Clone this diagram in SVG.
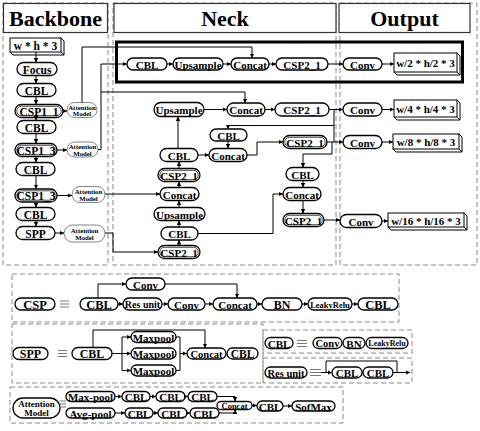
<svg xmlns="http://www.w3.org/2000/svg" width="480" height="431" viewBox="0 0 480 431">
<defs>
<marker id="a" viewBox="0 0 6 6" refX="6" refY="3" markerWidth="4.5" markerHeight="4.5" orient="auto" markerUnits="userSpaceOnUse"><path d="M0,0L6,3L0,6z" fill="#000"/></marker>
</defs>
<style>
text{font-family:"Liberation Serif","Times New Roman",serif;font-weight:bold;text-anchor:middle;dominant-baseline:central;fill:#000;font-size:11px}
.n rect{fill:#fff;stroke:#000;stroke-width:1.3}
.n rect.in{fill:none;stroke-width:0.7}
.am rect{fill:#fff;stroke:#666;stroke-width:0.8}
.am text{font-size:6.8px}
.dash{fill:none;stroke:#8a8a8a;stroke-width:1;stroke-dasharray:5 3}
.title{fill:#fff;stroke:#333;stroke-width:1.2}
.tt{font-size:22px}
.c path{fill:none;stroke:#000;stroke-width:1}
.c path.ar{marker-end:url(#a)}
.bx rect,.bx path{fill:#fff;stroke:#000;stroke-width:1}
.eq{fill:none;stroke:#777;stroke-width:1.1}
.bold{fill:none;stroke:#000;stroke-width:3}
</style>
<rect width="480" height="431" fill="#fff"/>

<!-- column frames -->
<g id="frames">
<rect class="dash" x="3" y="3" width="105" height="262"/>
<rect class="dash" x="113" y="3" width="223" height="262"/>
<rect class="dash" x="340" y="3" width="137" height="262"/>
<rect class="title" x="3.5" y="3.5" width="104" height="29"/>
<rect class="title" x="114" y="3.5" width="222" height="29"/>
<rect class="title" x="339" y="3.5" width="131" height="29"/>
<text class="tt" x="55.5" y="18">Backbone</text>
<text class="tt" x="225" y="18">Neck</text>
<text class="tt" x="404.5" y="18">Output</text>
<rect class="bold" x="116.5" y="42" width="346" height="40"/>
</g>

<!-- Backbone -->
<g id="bb-input" class="bx"><path d="M61,38 L64,41 L64,55 L13,55 L10,52 Z"/><path d="M61,52 L64,55"/><rect x="10" y="38" width="51" height="14"/><text x="35.5" y="45.5" style="font-size:11.5px">w * h * 3</text></g>
<g id="bb-focus" class="n"><rect x="17" y="62.5" width="40" height="13" rx="6.5"/><text x="37" y="69.5" style="font-size:11.5px">Focus</text></g>
<g id="bb-cbl1" class="n"><rect x="17" y="83.5" width="39" height="13" rx="6.5"/><text x="36.5" y="90.5" style="font-size:11.5px">CBL</text></g>
<g id="bb-csp11" class="n"><rect x="15" y="104.5" width="48" height="13" rx="6.5"/><rect class="in" x="16.8" y="106.3" width="44.4" height="9.4" rx="4.7"/><text x="39" y="111.5" style="font-size:11.5px">CSP1_1</text></g>
<g id="bb-cbl2" class="n"><rect x="17" y="120.5" width="39" height="13" rx="6.5"/><text x="36.5" y="127.5" style="font-size:11.5px">CBL</text></g>
<g id="bb-csp13a" class="n"><rect x="15" y="143.5" width="42" height="13" rx="6.5"/><rect class="in" x="16.8" y="145.3" width="38.4" height="9.4" rx="4.7"/><text x="36" y="150.5" style="font-size:11.5px">CSP1_3</text></g>
<g id="bb-cbl3" class="n"><rect x="16" y="162.5" width="39" height="13" rx="6.5"/><text x="35.5" y="169.5" style="font-size:11.5px">CBL</text></g>
<g id="bb-csp13b" class="n"><rect x="15" y="189" width="42" height="13" rx="6.5"/><rect class="in" x="16.8" y="190.8" width="38.4" height="9.4" rx="4.7"/><text x="36" y="196" style="font-size:11.5px">CSP1_3</text></g>
<g id="bb-cbl4" class="n"><rect x="16" y="207.5" width="39" height="13" rx="6.5"/><text x="35.5" y="214.5" style="font-size:11.5px">CBL</text></g>
<g id="bb-spp" class="n"><rect x="16" y="226.5" width="39" height="13" rx="6.5"/><text x="35.5" y="233.5" style="font-size:11.5px">SPP</text></g>
<g id="am1" class="am"><rect x="67" y="102.5" width="30" height="15" rx="7.5"/><text x="82" y="107">Attention</text><text x="82" y="113.5">Model</text></g>
<g id="am2" class="am"><rect x="67" y="142" width="31" height="15" rx="7.5"/><text x="82.5" y="146.5">Attention</text><text x="82.5" y="153">Model</text></g>
<g id="am3" class="am"><rect x="72" y="186.5" width="33" height="16" rx="8"/><text x="88.5" y="191.5">Attention</text><text x="88.5" y="198.5">Model</text></g>
<g id="am4" class="am"><rect x="64" y="225" width="41" height="17" rx="8.5"/><text x="84.5" y="230">Attention</text><text x="84.5" y="237.5">Model</text></g>

<!-- Neck -->
<g id="nk-cbl-r1" class="n"><rect x="127" y="58" width="40" height="12" rx="6"/><text x="147" y="64.5">CBL</text></g>
<g id="nk-up-r1" class="n"><rect x="173" y="58" width="50" height="12" rx="6"/><text x="198" y="64.5">Upsample</text></g>
<g id="nk-cat-r1" class="n"><rect x="231" y="58" width="38" height="12" rx="6"/><text x="250" y="64.5">Concat</text></g>
<g id="nk-csp-r1" class="n"><rect x="276" y="58" width="52" height="12" rx="6"/><text x="302" y="64.5">CSP2_1</text></g>
<g id="nk-up-r2" class="n"><rect x="154" y="102.5" width="50" height="14" rx="7"/><text x="179" y="110">Upsample</text></g>
<g id="nk-cat-r2" class="n"><rect x="227" y="103" width="38" height="13" rx="6.5"/><text x="246" y="110">Concat</text></g>
<g id="nk-csp-r2" class="n"><rect x="275" y="103" width="54" height="13" rx="6.5"/><text x="302" y="110">CSP2_1</text></g>
<g id="nk-cbl-m" class="n"><rect x="210" y="129" width="37" height="12" rx="6"/><text x="228.5" y="135.5">CBL</text></g>
<g id="nk-cat-m" class="n"><rect x="209" y="148.5" width="38" height="13" rx="6.5"/><text x="228" y="155.5">Concat</text></g>
<g id="nk-cbl-l1" class="n"><rect x="160" y="148.5" width="38" height="13" rx="6.5"/><text x="179" y="155.5">CBL</text></g>
<g id="nk-csp-l1" class="n"><rect x="158" y="168.5" width="42" height="13" rx="6.5"/><rect class="in" x="159.8" y="170.3" width="38.4" height="9.4" rx="4.7"/><text x="179" y="175.5">CSP2_1</text></g>
<g id="nk-cat-l" class="n"><rect x="160" y="187.5" width="39" height="13" rx="6.5"/><text x="179.5" y="194.5">Concat</text></g>
<g id="nk-up-l" class="n"><rect x="154" y="207.5" width="51" height="13" rx="6.5"/><text x="179.5" y="214.5">Upsample</text></g>
<g id="nk-cbl-l2" class="n"><rect x="161" y="227" width="37" height="13" rx="6.5"/><text x="179.5" y="234">CBL</text></g>
<g id="nk-csp-l2" class="n"><rect x="158" y="245.5" width="42" height="13" rx="6.5"/><rect class="in" x="159.8" y="247.3" width="38.4" height="9.4" rx="4.7"/><text x="179" y="252.5">CSP2_1</text></g>
<g id="nk-csp-r3" class="n"><rect x="283" y="135.5" width="44" height="13" rx="6.5"/><rect class="in" x="284.8" y="137.3" width="40.4" height="9.4" rx="4.7"/><text x="305" y="142.5">CSP2_1</text></g>
<g id="nk-cbl-r3" class="n"><rect x="286" y="167.5" width="33" height="13" rx="6.5"/><text x="302.5" y="174.5">CBL</text></g>
<g id="nk-cat-r3" class="n"><rect x="283" y="187.5" width="38" height="13" rx="6.5"/><text x="302" y="194.5">Concat</text></g>
<g id="nk-csp-r4" class="n"><rect x="283" y="213.5" width="41" height="13" rx="6.5"/><rect class="in" x="284.8" y="215.3" width="37.4" height="9.4" rx="4.7"/><text x="303.5" y="220.5">CSP2_1</text></g>

<!-- Output -->
<g id="out-conv1" class="n"><rect x="343" y="58" width="39" height="12" rx="6"/><text x="362.5" y="64.5">Conv</text></g>
<g id="out-box1" class="bx"><path d="M457,53 L460,56 L460,75 L397,75 L394,72 Z"/><path d="M457,72 L460,75"/><rect x="394" y="53" width="63" height="19"/><text x="425.5" y="63">w/2 * h/2 * 3</text></g>
<g id="out-conv2" class="n"><rect x="343" y="103" width="39" height="13" rx="6.5"/><text x="362.5" y="110">Conv</text></g>
<g id="out-box2" class="bx"><path d="M457,100 L460,103 L460,120 L397,120 L394,117 Z"/><path d="M457,117 L460,120"/><rect x="394" y="100" width="63" height="17"/><text x="425.5" y="109">w/4 * h/4 * 3</text></g>
<g id="out-conv3" class="n"><rect x="343" y="135.5" width="39" height="13" rx="6.5"/><text x="362.5" y="142.5">Conv</text></g>
<g id="out-box3" class="bx"><path d="M459,134 L462,137 L462,152 L396,152 L393,149 Z"/><path d="M459,149 L462,152"/><rect x="393" y="134" width="66" height="15"/><text x="426" y="142">w/8 * h/8 * 3</text></g>
<g id="out-conv4" class="n"><rect x="340" y="214.5" width="42" height="13" rx="6.5"/><text x="361" y="221.5">Conv</text></g>
<g id="out-box4" class="bx"><path d="M464,213 L467,216 L467,230 L391,230 L388,227 Z"/><path d="M464,227 L467,230"/><rect x="388" y="213" width="76" height="14"/><text x="426" y="220.5">w/16 * h/16 * 3</text></g>

<!-- Legend: CSP -->
<rect class="dash" x="12" y="274" width="387" height="48"/>
<g id="lg-csp" class="n"><rect x="15" y="298" width="40" height="12" rx="6"/><text x="35" y="304.5" style="font-size:12.5px">CSP</text></g>
<path class="eq" d="M60,301H69M60,304H69M60,307H69"/>
<g id="lg-csp-cbl" class="n"><rect x="80" y="298" width="38" height="12" rx="6"/><text x="99" y="304.5" style="font-size:12.5px">CBL</text></g>
<g id="lg-csp-res" class="n"><rect x="123" y="298" width="39" height="12" rx="6"/><text x="142.5" y="304.5" style="font-size:10px">Res unit</text></g>
<g id="lg-csp-conv" class="n"><rect x="168" y="298" width="37" height="12" rx="6"/><text x="186.5" y="304.5">Conv</text></g>
<g id="lg-csp-conv2" class="n"><rect x="126" y="278" width="39" height="12" rx="6"/><text x="145.5" y="284.5">Conv</text></g>
<g id="lg-csp-cat" class="n"><rect x="213" y="298" width="44" height="12" rx="6"/><text x="235" y="304.5">Concat</text></g>
<g id="lg-csp-bn" class="n"><rect x="262" y="298" width="40" height="12" rx="6"/><text x="282" y="304.5" style="font-size:12px">BN</text></g>
<g id="lg-csp-lr" class="n"><rect x="308" y="298" width="44" height="12" rx="6"/><text x="330" y="304.5" style="font-size:8.5px">LeakyRelu</text></g>
<g id="lg-csp-cbl2" class="n"><rect x="358" y="298" width="40" height="12" rx="6"/><text x="378" y="304.5" style="font-size:12.5px">CBL</text></g>

<!-- Legend: SPP -->
<rect class="dash" x="12" y="324" width="251" height="59"/>
<g id="lg-spp" class="n"><rect x="13" y="347.5" width="35" height="12" rx="6"/><text x="30.5" y="354" style="font-size:12px">SPP</text></g>
<path class="eq" d="M58,350.5H67M58,353.5H67M58,356.5H67"/>
<g id="lg-spp-cbl" class="n"><rect x="72" y="347.5" width="40" height="12" rx="6"/><text x="92" y="354" style="font-size:12px">CBL</text></g>
<g id="lg-spp-mp1" class="n"><rect x="131" y="331.5" width="45" height="11" rx="5.5"/><text x="153.5" y="337.5">Maxpool</text></g>
<g id="lg-spp-mp2" class="n"><rect x="131" y="348" width="45" height="11" rx="5.5"/><text x="153.5" y="354">Maxpool</text></g>
<g id="lg-spp-mp3" class="n"><rect x="131" y="365" width="45" height="11" rx="5.5"/><text x="153.5" y="371">Maxpool</text></g>
<g id="lg-spp-cat" class="n"><rect x="187" y="348" width="39" height="11" rx="5.5"/><text x="206.5" y="354" style="font-size:10.5px">Concat</text></g>
<g id="lg-spp-cbl2" class="n"><rect x="227" y="348" width="31" height="11" rx="5.5"/><text x="242.5" y="354" style="font-size:11.5px">CBL</text></g>

<!-- Legend: CBL -->
<rect class="dash" x="263" y="330" width="149" height="23"/>
<g id="lg-cbl" class="n"><rect x="265" y="337.5" width="28" height="11" rx="5.5"/><text x="279" y="343.5">CBL</text></g>
<path class="eq" d="M297,340.5H307M297,343.5H307M297,346.5H307"/>
<g id="lg-cbl-conv" class="n"><rect x="313" y="337.5" width="29" height="11" rx="5.5"/><text x="327.5" y="343.5" style="font-size:10.5px">Conv</text></g>
<g id="lg-cbl-bn" class="n"><rect x="343" y="337.5" width="22" height="11" rx="5.5"/><text x="354" y="343.5">BN</text></g>
<g id="lg-cbl-lr" class="n"><rect x="366" y="337.5" width="42" height="11" rx="5.5"/><text x="387" y="343.5" style="font-size:8px">LeakyRelu</text></g>

<!-- Legend: Res unit -->
<rect class="dash" x="263" y="358" width="149" height="25"/>
<g id="lg-res" class="n"><rect x="265" y="367" width="42" height="11" rx="5.5"/><text x="286" y="373" style="font-size:10.5px">Res unit</text></g>
<path class="eq" d="M310,369.5H321M310,372.5H321M310,375.5H321"/>
<g id="lg-res-cbl1" class="n"><rect x="332" y="367" width="30" height="11" rx="5.5"/><text x="347" y="373">CBL</text></g>
<g id="lg-res-cbl2" class="n"><rect x="363" y="367" width="30" height="11" rx="5.5"/><text x="378" y="373">CBL</text></g>

<!-- Legend: Attention -->
<rect class="dash" x="10" y="387" width="333" height="36"/>
<g id="lg-am" class="n"><rect x="13" y="398" width="47" height="20" rx="10"/><text x="36.5" y="403.5" style="font-size:9px">Attention</text><text x="36.5" y="412.5" style="font-size:9px">Model</text></g>
<path class="eq" d="M59.5,401H66M59.5,404H66M59.5,407H66"/>
<g id="lg-am-max" class="n"><rect x="66" y="391.5" width="49" height="10" rx="5"/><text x="90.5" y="397">Max-pool</text></g>
<g id="lg-am-avg" class="n"><rect x="66" y="408" width="49" height="10" rx="5"/><text x="90.5" y="413.5">Avg-pool</text></g>
<g id="lg-am-c1" class="n"><rect x="122" y="391.5" width="28" height="10" rx="5"/><text x="136" y="397">CBL</text></g>
<g id="lg-am-c2" class="n"><rect x="156" y="391.5" width="29" height="10" rx="5"/><text x="170.5" y="397">CBL</text></g>
<g id="lg-am-c3" class="n"><rect x="188" y="391.5" width="29" height="10" rx="5"/><text x="202.5" y="397">CBL</text></g>
<g id="lg-am-c4" class="n"><rect x="125" y="408" width="28" height="10" rx="5"/><text x="139" y="413.5">CBL</text></g>
<g id="lg-am-c5" class="n"><rect x="158" y="408" width="29" height="10" rx="5"/><text x="172.5" y="413.5">CBL</text></g>
<g id="lg-am-c6" class="n"><rect x="190" y="408" width="29" height="10" rx="5"/><text x="204.5" y="413.5">CBL</text></g>
<g id="lg-am-cat" class="n"><rect x="217" y="401.5" width="35" height="8" rx="4"/><text x="234.5" y="406" style="font-size:8.5px">Concat</text></g>
<g id="lg-am-cbl" class="n"><rect x="257" y="401" width="26" height="10" rx="5"/><text x="270" y="406.5">CBL</text></g>
<g id="lg-am-soft" class="n"><rect x="292" y="401" width="43" height="10" rx="5"/><text x="313.5" y="406.5" style="font-size:11px">SofMax</text></g>

<!-- Connectors -->
<g id="connectors" class="c">
<path class="ar" d="M36,52V62.5"/>
<path class="ar" d="M36,75.5V83.5"/>
<path class="ar" d="M36,96.5V104.5"/>
<path class="ar" d="M36,117.5V120.5"/>
<path class="ar" d="M36,133.5V143.5"/>
<path class="ar" d="M36,156.5V162.5"/>
<path class="ar" d="M36,175.5V189"/>
<path class="ar" d="M36,202V207.5"/>
<path class="ar" d="M36,220.5V226.5"/>
<path class="ar" d="M63,111H67"/>
<path class="ar" d="M57,150H67"/>
<path class="ar" d="M57,195.5H72"/>
<path class="ar" d="M55,233H64"/>
<path class="ar" d="M82,102.5V47H252V58"/>
<path class="ar" d="M98,149.5H101V64H127"/>
<path class="ar" d="M101,92H245V103"/>
<path class="ar" d="M105,194H160"/>
<path class="ar" d="M105,233H113V252H158"/>
<path class="ar" d="M167,64H173"/>
<path class="ar" d="M223,64H231"/>
<path class="ar" d="M269,64H276"/>
<path class="ar" d="M328,64H343"/>
<path class="ar" d="M382,64H394"/>
<path class="ar" d="M179,245.5V240"/>
<path class="ar" d="M179,227V220.5"/>
<path class="ar" d="M179,207.5V200.5"/>
<path class="ar" d="M179,187.5V181.5"/>
<path class="ar" d="M179,168.5V161.5"/>
<path class="ar" d="M178,148.5V116.5"/>
<path class="ar" d="M204,109.5H227"/>
<path class="ar" d="M265,109.5H275"/>
<path class="ar" d="M329,109.5H343"/>
<path class="ar" d="M382,109.5H394"/>
<path d="M334,109.5V142"/>
<path class="ar" d="M334,125.5H228V129"/>
<path class="ar" d="M228,141V148.5"/>
<path class="ar" d="M198,155H209"/>
<path class="ar" d="M247,155H257V142H283"/>
<path class="ar" d="M327,142H343"/>
<path class="ar" d="M382,142H393"/>
<path class="ar" d="M332,142V154H303V167.5"/>
<path class="ar" d="M303,180.5V187.5"/>
<path class="ar" d="M198,233.5H273V194H283"/>
<path class="ar" d="M303,200.5V213.5"/>
<path class="ar" d="M324,220H340"/>
<path class="ar" d="M382,221H388"/>
<!-- CSP legend -->
<path class="ar" d="M118,304H123"/>
<path class="ar" d="M162,304H168"/>
<path class="ar" d="M205,304H213"/>
<path class="ar" d="M257,304H262"/>
<path class="ar" d="M302,304H308"/>
<path class="ar" d="M352,304H358"/>
<path class="ar" d="M98,298V284H126"/>
<path class="ar" d="M165,284H237V298"/>
<!-- SPP legend -->
<path d="M112,353.5H122M122,337V370.5"/>
<path class="ar" d="M122,337H131"/>
<path class="ar" d="M122,353.5H131"/>
<path class="ar" d="M122,370.5H131"/>
<path d="M176,337H180V370.5H176"/>
<path class="ar" d="M180,353.5H187"/>
<path class="ar" d="M93,347.5V330H205V348"/>
<!-- Res unit legend -->
<path class="ar" d="M321,372.5H332"/>
<path class="ar" d="M393,372.5H410"/>
<path d="M326,372.5V361H397V372.5"/>
<!-- Attention legend -->
<path class="ar" d="M115,396.5H122"/>
<path class="ar" d="M150,396.5H156"/>
<path class="ar" d="M185,396.5H188"/>
<path class="ar" d="M115,413H125"/>
<path class="ar" d="M153,413H158"/>
<path class="ar" d="M187,413H190"/>
<path class="ar" d="M217,396.5H235V401.5"/>
<path class="ar" d="M219,413H235V409.5"/>
<path class="ar" d="M252,405.5H257"/>
<path class="ar" d="M283,406H292"/>
</g>
</svg>
